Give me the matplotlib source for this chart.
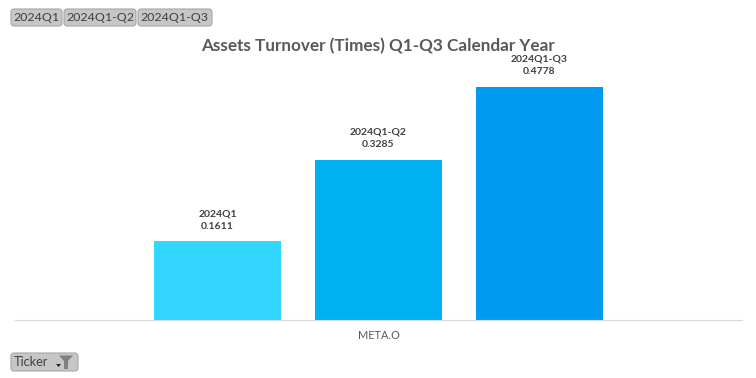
import matplotlib
matplotlib.use("Agg")
import matplotlib.pyplot as plt
from matplotlib.patches import FancyBboxPatch, Polygon

periods = ["2024Q1", "2024Q1-Q2", "2024Q1-Q3"]
values = [0.1611, 0.3285, 0.4778]
colors = ["#33D6FF", "#00B0F0", "#009BF0"]
ticker = "META.O"
title = "Assets Turnover (Times) Q1-Q3 Calendar Year"
filter_label = "Ticker"

W, H = 756, 378
plt.rcParams["font.family"] = ["Lato", "DejaVu Sans"]

fig = plt.figure(figsize=(W / 100, H / 100), dpi=100, facecolor="white")

# Plot area: baseline at y=320 px, spans x=15..742 px
ax = fig.add_axes([15 / W, (H - 320) / H, 727 / W, 300 / H])
offsets = [-1, 0, 1]
ax.bar(offsets, values, width=0.789, color=colors, linewidth=0, zorder=2)
ax.set_xlim(-2.258, 2.258)
ax.set_ylim(0, 300 / 487.6)
for s in ("top", "left", "right"):
    ax.spines[s].set_visible(False)
ax.spines["bottom"].set_color("#D9D9D9")
ax.spines["bottom"].set_linewidth(0.8)
ax.set_yticks([])
ax.set_xticks([0])
ax.set_xticklabels([ticker], fontsize=7.9, color="#595959")
ax.tick_params(axis="x", length=0, pad=7)
ax.patch.set_alpha(0)

for x, p, v in zip(offsets, periods, values):
    ax.annotate(f"{p}\n{v:.4f}", (x, v), xytext=(0, 7.6), textcoords="offset points",
                ha="center", va="bottom", fontsize=7.5, fontweight="bold",
                color="#404040", linespacing=1.5, zorder=5, annotation_clip=False)

# Overlay in pixel coordinates for title and slicer buttons
ui = fig.add_axes([0, 0, 1, 1], zorder=-1)
ui.set_xlim(0, W)
ui.set_ylim(H, 0)
ui.axis("off")

fig.text(378 / W, 1 - 46 / H, title, ha="center", va="center", fontsize=12.3,
         fontweight="bold", color="#595959")


def button(x0, y0, w, h, label, fs=8.9):
    ui.add_patch(FancyBboxPatch((x0 + 2, y0 + 2), w - 4, h - 4,
                                boxstyle="round,pad=2,rounding_size=3",
                                fc="#C6C6C6", ec="#A6A6A6", lw=0.8))
    ui.text(x0 + 2.5, y0 + h / 2 + 0.3, label, ha="left", va="center", fontsize=fs, color="#3F3F3F")


button(11, 9, 51, 17, periods[0])
button(64, 9, 72, 17, periods[1])
button(138, 9, 74, 17, periods[2])
button(11, 353, 67, 18, filter_label, fs=9.2)

# Filter drop arrow and funnel icon
ui.add_patch(Polygon([[56, 364], [61, 364], [58.5, 367]], fc="#222222", ec="none"))
ui.add_patch(Polygon([[59, 355.5], [73, 355.5], [68, 361], [68, 369], [64, 369], [64, 361]],
                     fc="#808080", ec="none"))

fig.savefig("out.png", dpi=100, facecolor="white")
